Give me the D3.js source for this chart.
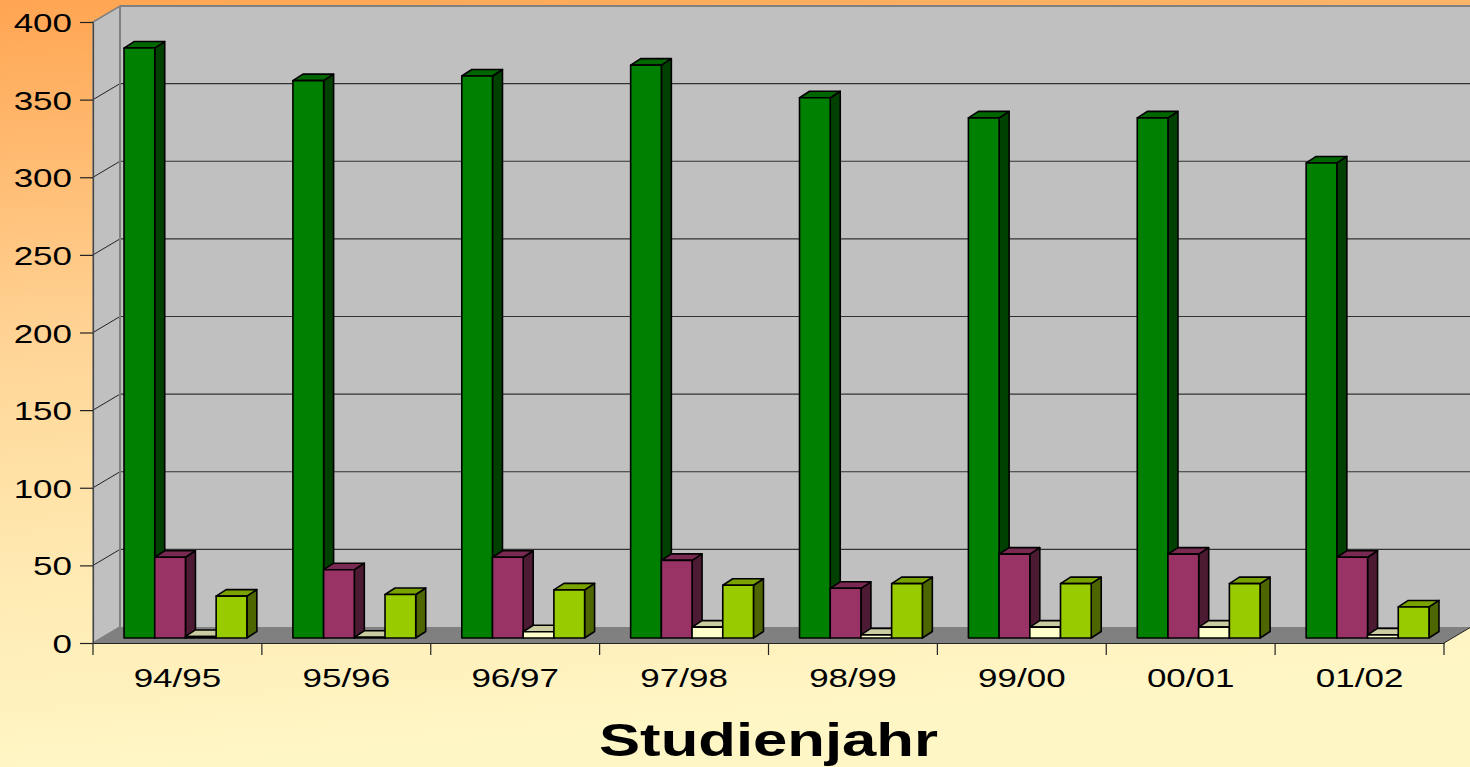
<!DOCTYPE html>
<html>
<head>
<meta charset="utf-8">
<title>Studienjahr</title>
<script src="https://d3js.org/d3.v7.min.js"></script>
<style>
  body { margin: 0; overflow: hidden; }
  svg { display: block; font-family: "Liberation Sans", Arial, sans-serif; }
</style>
</head>
<body>
<script>

// data
var years = ["94/95", "95/96", "96/97", "97/98", "98/99", "99/00", "00/01", "01/02"];
var seriesA = [380, 359, 362, 369, 348, 335, 335, 306];
var seriesB = [52, 44, 52, 50, 32, 54, 54, 52];
var seriesC = [1, 0.5, 4, 7, 2, 7, 7, 2];
var seriesD = [27, 28, 31, 34, 35, 35, 35, 20];
var yTicks = [0, 50, 100, 150, 200, 250, 300, 350, 400];
var seriesKeys = ["A", "B", "C", "D"];

var colors = {
  A: { front: "#008000", top: "#006600", side: "#004000" },
  B: { front: "#993366", top: "#7a2952", side: "#4d1a33" },
  C: { front: "#ffffcc", top: "#ccccA3", side: "#808066" },
  D: { front: "#99cc00", top: "#7aa300", side: "#4d6600" }
};
var values = { A: seriesA, B: seriesB, C: seriesC, D: seriesD };

var W = 1470, H = 767;
var svg = d3.select("body").append("svg").attr("width", W).attr("height", H);

var defs = svg.append("defs");
var grad = defs.append("linearGradient").attr("id", "bg")
  .attr("x1", 0).attr("y1", 0).attr("x2", 0.15).attr("y2", 1);
grad.append("stop").attr("offset", "0%").attr("stop-color", "#ffa552");
grad.append("stop").attr("offset", "45%").attr("stop-color", "#ffd597");
grad.append("stop").attr("offset", "75%").attr("stop-color", "#ffebb3");
grad.append("stop").attr("offset", "100%").attr("stop-color", "#fff6c6");
svg.append("rect").attr("width", W).attr("height", H).attr("fill", "url(#bg)");

// 3d geometry
var left = 93, right = 1444;
var wall = { dx: 27, dy: -16 };     // depth of walls
var off = { dx: 8, dy: -5 };        // bars set back from front
var bd = { dx: 10, dy: -6.5 };      // depth of bars
var sx = 1.4;                       // text is stretched horizontally

var y = d3.scaleLinear().domain([0, 400]).range([643, 22]);
var x = d3.scaleBand().domain(years).range([left, right]);
var x1 = d3.scaleBand().domain(seriesKeys).range([0, x.bandwidth()]).paddingInner(0).paddingOuter(0.75);

function pts(a) { return a.map(function(p){ return p.join(","); }).join(" "); }

// back wall
svg.append("polygon")
  .attr("points", pts([[left + wall.dx, y(400) + wall.dy], [W + 5, y(400) + wall.dy], [W + 5, y(0) + wall.dy], [left + wall.dx, y(0) + wall.dy]]))
  .attr("fill", "#c0c0c0");
svg.append("line")
  .attr("x1", left + wall.dx).attr("x2", W)
  .attr("y1", y(400) + wall.dy).attr("y2", y(400) + wall.dy)
  .attr("stroke", "#808080").attr("stroke-width", 2);

// left wall
svg.append("polygon")
  .attr("points", pts([[left, y(0)], [left, y(400)], [left + wall.dx, y(400) + wall.dy], [left + wall.dx, y(0) + wall.dy]]))
  .attr("fill", "#c0c0c0").attr("stroke", "#808080").attr("stroke-width", 1.5);

// gridlines
var grid = svg.append("g");
grid.selectAll("line.back").data(yTicks.filter(function(d){ return d > 0 && d < 400; }))
  .enter().append("line").attr("class", "back")
  .attr("x1", left + wall.dx).attr("x2", W)
  .attr("y1", function(d){ return y(d) + wall.dy; })
  .attr("y2", function(d){ return y(d) + wall.dy; })
  .attr("stroke", "#333").attr("stroke-width", 1.2);
grid.selectAll("line.side").data(yTicks.filter(function(d){ return d > 0 && d < 400; }))
  .enter().append("line").attr("class", "side")
  .attr("x1", left).attr("x2", left + wall.dx)
  .attr("y1", function(d){ return y(d); })
  .attr("y2", function(d){ return y(d) + wall.dy; })
  .attr("stroke", "#222").attr("stroke-width", 1);
svg.append("line")
  .attr("x1", left + wall.dx).attr("x2", left + wall.dx)
  .attr("y1", y(400) + wall.dy).attr("y2", y(0) + wall.dy)
  .attr("stroke", "#808080").attr("stroke-width", 2);

// floor
svg.append("polygon")
  .attr("points", pts([[left, y(0)], [right, y(0)], [right + wall.dx, y(0) + wall.dy], [left + wall.dx, y(0) + wall.dy]]))
  .attr("fill", "#808080");
svg.append("line")
  .attr("x1", right).attr("y1", y(0)).attr("x2", right + wall.dx).attr("y2", y(0) + wall.dy)
  .attr("stroke", "#222").attr("stroke-width", 1);

// bars
var bars = svg.append("g");
years.forEach(function(yr, i) {
  seriesKeys.forEach(function(k) {
    var v = values[k][i];
    var c = colors[k];
    var x0 = x(yr) + x1(k) + off.dx, xw = x0 + x1.bandwidth();
    var yb = y(0) + off.dy, yt = y(v) + off.dy;
    var g = bars.append("g").attr("stroke", "#000").attr("stroke-width", 1.6).attr("stroke-linejoin", "round");
    g.append("polygon").attr("fill", c.side)
      .attr("points", pts([[xw, yb], [xw, yt], [xw + bd.dx, yt + bd.dy], [xw + bd.dx, yb + bd.dy]]));
    g.append("polygon").attr("fill", c.top)
      .attr("points", pts([[x0, yt], [xw, yt], [xw + bd.dx, yt + bd.dy], [x0 + bd.dx, yt + bd.dy]]));
    g.append("rect").attr("fill", c.front)
      .attr("x", x0).attr("y", yt).attr("width", x1.bandwidth()).attr("height", yb - yt);
  });
});

// value axis
var yAxis = svg.append("g").attr("transform", "translate(" + left + ",0)")
  .call(d3.axisLeft(y).tickValues(yTicks).tickSize(13).tickSizeOuter(0).tickPadding(8));
yAxis.select(".domain").attr("stroke", "#444").attr("stroke-width", 1.2);
yAxis.selectAll(".tick line").attr("stroke", "#222").attr("stroke-width", 1.2);
yAxis.selectAll(".tick text")
  .attr("x", -21 / sx).attr("dy", "0.38em")
  .attr("transform", "scale(" + sx + ",1)")
  .attr("font-size", 25).attr("fill", "#000")
  .attr("font-family", "Liberation Sans, Arial, sans-serif");

// category axis
var xAxis = svg.append("g").attr("transform", "translate(0," + y(0) + ")")
  .call(d3.axisBottom(x).tickSize(0).tickPadding(0));
xAxis.select(".domain").attr("stroke", "#222").attr("stroke-width", 1.2);
xAxis.selectAll(".tick text")
  .attr("y", 0).attr("dy", 44)
  .attr("transform", "scale(" + sx + ",1)")
  .attr("font-size", 25).attr("fill", "#000")
  .attr("font-family", "Liberation Sans, Arial, sans-serif");
xAxis.selectAll(".tick").attr("transform", function(d){ return "translate(" + ((x(d) + x.bandwidth() / 2) / sx) + ",0)"; })
  .attr("transform", function(d){ return "translate(" + (x(d) + x.bandwidth() / 2) + ",0)"; });
var bounds = years.map(function(d){ return x(d); }).concat([right]);
xAxis.selectAll("line.bound").data(bounds).enter().append("line").attr("class", "bound")
  .attr("x1", function(d){ return d; }).attr("x2", function(d){ return d; })
  .attr("y1", 0).attr("y2", 12)
  .attr("stroke", "#222").attr("stroke-width", 1.2);

// axis title
svg.append("text")
  .attr("transform", "translate(" + ((left + right) / 2) + ",756) scale(1.34,1)")
  .attr("text-anchor", "middle")
  .attr("font-size", 46).attr("font-weight", "bold").attr("fill", "#000")
  .text("Studienjahr");

</script>
</body>
</html>
